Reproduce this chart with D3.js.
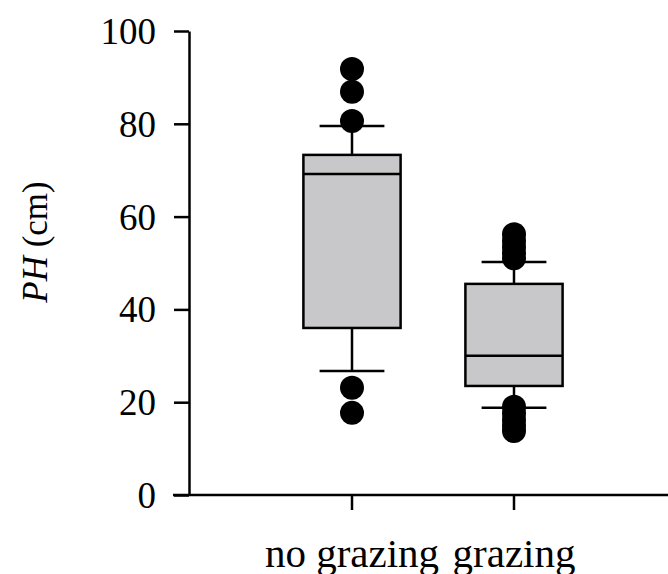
<!DOCTYPE html>
<html>
<head>
<meta charset="utf-8">
<script src="https://cdn.jsdelivr.net/npm/d3@7"></script>
<style>
  html, body { margin: 0; padding: 0; background: #fff; }
  svg { display: block; }
  text { font-family: "Liberation Serif", "Times New Roman", serif; fill: #000; }
</style>
</head>
<body>
<div id="chart"></div>
<script>
// ---- data ----
const groups = ['no grazing', 'grazing'];
const q1 = [36.0, 23.5];
const median = [69.2, 30.0];
const q3 = [73.3, 45.5];
const whiskerLow = [26.7, 18.8];
const whiskerHigh = [79.5, 50.2];
const outliersNoGrazing = [91.8, 86.9, 80.6, 23.1, 17.7];
const outliersGrazing = [56.2, 54.8, 53.5, 52.2, 51.0, 19.0, 17.6, 16.2, 15.0, 13.8];
const yTicks = [0, 20, 40, 60, 80, 100];

const outliers = [outliersNoGrazing, outliersGrazing];

const width = 668, height = 574;
const svg = d3.select('#chart').append('svg')
  .attr('width', width).attr('height', height);

const axisX = 189;
const y = d3.scaleLinear().domain([0, 100]).range([495, 31]);
const x = d3.scaleBand().domain(groups).range([190, 676]).paddingInner(0).paddingOuter(0.5);

const boxW = x.step() * 0.6;
const capW = x.step() * 0.4;
const sw = 2.5;

// y axis
const yAxis = svg.append('g')
  .attr('transform', `translate(${axisX},0)`)
  .call(d3.axisLeft(y).tickValues(yTicks).tickSize(15).tickPadding(18).tickSizeOuter(0));
yAxis.select('.domain').attr('stroke', '#000').attr('stroke-width', sw);
yAxis.selectAll('.tick line').attr('stroke', '#000').attr('stroke-width', sw);
yAxis.selectAll('.tick text').attr('font-size', 37).attr('dy', '0.34em');

// x axis
const xAxis = svg.append('g')
  .attr('transform', 'translate(0,495)')
  .call(d3.axisBottom(x).tickSize(15).tickPadding(28).tickSizeOuter(0));
xAxis.select('.domain').attr('d', 'M173,0H668').attr('stroke', '#000').attr('stroke-width', sw);
xAxis.selectAll('.tick line').attr('stroke', '#000').attr('stroke-width', sw);
xAxis.selectAll('.tick text').attr('font-size', 41);

// y axis title
const yt = svg.append('text')
  .attr('transform', 'translate(47,242) rotate(-90)')
  .attr('text-anchor', 'middle')
  .attr('font-size', 35);
yt.append('tspan').attr('font-style', 'italic').text('PH');
yt.append('tspan').text(' (cm)');

// boxes
const g = svg.append('g');
groups.forEach((name, i) => {
  const cx = x(name) + x.bandwidth() / 2;
  // whisker stems
  g.append('line').attr('x1', cx).attr('x2', cx)
    .attr('y1', y(q3[i])).attr('y2', y(whiskerHigh[i]))
    .attr('stroke', '#000').attr('stroke-width', sw);
  g.append('line').attr('x1', cx).attr('x2', cx)
    .attr('y1', y(q1[i])).attr('y2', y(whiskerLow[i]))
    .attr('stroke', '#000').attr('stroke-width', sw);
  // caps
  [whiskerHigh[i], whiskerLow[i]].forEach(v => {
    g.append('line').attr('x1', cx - capW / 2).attr('x2', cx + capW / 2)
      .attr('y1', y(v)).attr('y2', y(v))
      .attr('stroke', '#000').attr('stroke-width', sw);
  });
  // box
  g.append('rect')
    .attr('x', cx - boxW / 2).attr('width', boxW)
    .attr('y', y(q3[i])).attr('height', y(q1[i]) - y(q3[i]))
    .attr('fill', '#c8c8ca').attr('stroke', '#000').attr('stroke-width', sw);
  // median
  g.append('line').attr('x1', cx - boxW / 2).attr('x2', cx + boxW / 2)
    .attr('y1', y(median[i])).attr('y2', y(median[i]))
    .attr('stroke', '#000').attr('stroke-width', sw);
  // outliers
  g.selectAll(null).data(outliers[i]).join('circle')
    .attr('cx', cx).attr('cy', d => y(d)).attr('r', 12)
    .attr('fill', '#000');
});
</script>
</body>
</html>
